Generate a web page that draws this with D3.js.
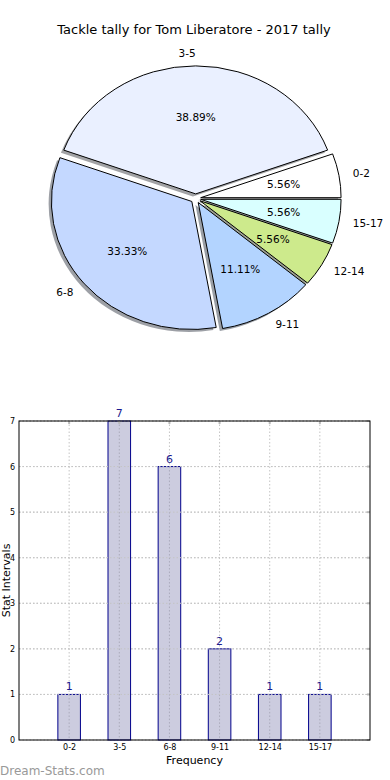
<!DOCTYPE html>
<html>
<head>
<meta charset="utf-8">
<script src="https://cdn.jsdelivr.net/npm/d3@7"></script>
<style>
  body { margin: 0; background: #fff; }
  svg { display: block; font-family: "DejaVu Sans", sans-serif; }
</style>
</head>
<body>
<svg id="chart" width="390" height="780"></svg>
<script>
// Tackle tally data
var categories = ['0-2', '3-5', '6-8', '9-11', '12-14', '15-17'];
var counts = [1, 7, 6, 2, 1, 1];
var pieColors = ['#ffffff', '#eaf0ff', '#c4d8ff', '#b3d4ff', '#cdea8c', '#d9ffff'];
var yTicks = [0, 1, 2, 3, 4, 5, 6, 7];

var svg = d3.select('#chart');

// Title
svg.append('text')
  .attr('x', 194).attr('y', 34)
  .attr('text-anchor', 'middle')
  .style('font-size', '13px')
  .text('Tackle tally for Tom Liberatore - 2017 tally');

// ---- Pie (elliptical, like matplotlib without equal aspect) ----
var cx = 195.7, cy = 198.5, rx = 140.4, ry = 128;
var explode = 0.036;
var total = d3.sum(counts);

// counterclockwise from 3 o'clock
var pie = d3.pie().sort(null).startAngle(Math.PI / 2).endAngle(Math.PI / 2 - 2 * Math.PI);
var arcs = pie(counts);
var arc = d3.arc().innerRadius(0).outerRadius(rx);

var pieG = svg.append('g').attr('transform', 'translate(' + cx + ',' + cy + ')');

function mid(d) { return (d.startAngle + d.endAngle) / 2; }
function offX(d) { return explode * rx * Math.sin(mid(d)); }
function offY(d) { return -explode * ry * Math.cos(mid(d)); }

// shadows first
pieG.selectAll('.shadow').data(arcs).enter()
  .append('g')
  .attr('transform', function(d) {
    return 'translate(' + (offX(d) - 0.02 * rx) + ',' + (offY(d) + 0.02 * ry) + ') scale(1,' + (ry / rx) + ')';
  })
  .append('path')
  .attr('d', arc)
  .attr('fill', function(d, i) {
    var c = d3.rgb(pieColors[i]);
    return d3.rgb(c.r * 0.3, c.g * 0.3, c.b * 0.3);
  })
  .attr('fill-opacity', 0.5);

pieG.selectAll('.wedge').data(arcs).enter()
  .append('g')
  .attr('transform', function(d) {
    return 'translate(' + offX(d) + ',' + offY(d) + ') scale(1,' + (ry / rx) + ')';
  })
  .append('path')
  .attr('d', arc)
  .attr('fill', function(d, i) { return pieColors[i]; })
  .attr('stroke', '#000')
  .attr('stroke-width', 1)
  .attr('vector-effect', 'non-scaling-stroke')
  .attr('stroke-linejoin', 'round');

// category labels
pieG.selectAll('.lbl').data(arcs).enter()
  .append('text')
  .attr('x', function(d) { return offX(d) + 1.1 * rx * Math.sin(mid(d)); })
  .attr('y', function(d) { return offY(d) - 1.1 * ry * Math.cos(mid(d)); })
  .attr('dy', '0.35em')
  .attr('text-anchor', function(d) { return Math.sin(mid(d)) > 1e-6 ? 'start' : 'end'; })
  .style('font-size', '10.5px')
  .text(function(d, i) { return categories[i]; });

// percentages
pieG.selectAll('.pct').data(arcs).enter()
  .append('text')
  .attr('x', function(d) { return offX(d) + 0.6 * rx * Math.sin(mid(d)); })
  .attr('y', function(d) { return offY(d) - 0.6 * ry * Math.cos(mid(d)); })
  .attr('dy', '0.35em')
  .attr('text-anchor', 'middle')
  .style('font-size', '10.5px')
  .text(function(d) { return (d.value / total * 100).toFixed(2) + '%'; });

// ---- Bar chart ----
var plotL = 19, plotR = 370, plotT = 421, plotB = 740;
var x = d3.scaleLinear().domain([-1, 6]).range([plotL, plotR]);
var y = d3.scaleLinear().domain([0, 7]).range([plotB, plotT]);
var barW = x(0.45) - x(0);

var bars = svg.append('g');

// grid
bars.selectAll('.gy').data(yTicks).enter()
  .append('line')
  .attr('x1', plotL).attr('x2', plotR)
  .attr('y1', function(d) { return y(d); }).attr('y2', function(d) { return y(d); })
  .attr('stroke', '#c4c4c4').attr('stroke-dasharray', '1.5,2');
bars.selectAll('.gx').data(categories).enter()
  .append('line')
  .attr('x1', function(d, i) { return x(i); }).attr('x2', function(d, i) { return x(i); })
  .attr('y1', plotT).attr('y2', plotB)
  .attr('stroke', '#c4c4c4').attr('stroke-dasharray', '1.5,2');

bars.selectAll('rect').data(counts).enter()
  .append('rect')
  .attr('x', function(d, i) { return x(i) - barW / 2; })
  .attr('y', function(d) { return y(d); })
  .attr('width', barW)
  .attr('height', function(d) { return plotB - y(d); })
  .attr('fill', '#ccccdf')
  .attr('stroke', '#00008b')
  .attr('stroke-width', 1);

// grid over bars too (matplotlib draws on top here)
bars.selectAll('.gx2').data(categories).enter()
  .append('line')
  .attr('x1', function(d, i) { return x(i); }).attr('x2', function(d, i) { return x(i); })
  .attr('y1', function(d, i) { return y(counts[i]); }).attr('y2', plotB)
  .attr('stroke', '#aaaabb').attr('stroke-dasharray', '1.5,2');
bars.selectAll('.gy2').data(yTicks.slice(1)).enter()
  .append('line')
  .attr('x1', plotL).attr('x2', plotR)
  .attr('y1', function(d) { return y(d); }).attr('y2', function(d) { return y(d); })
  .attr('stroke', '#c4c4c4').attr('stroke-dasharray', '1.5,2');

// small gray ticks on top and right edges
bars.selectAll('.tt').data(categories).enter()
  .append('line')
  .attr('x1', function(d, i) { return x(i); }).attr('x2', function(d, i) { return x(i); })
  .attr('y1', plotT).attr('y2', plotT + 3)
  .attr('stroke', '#bbb').attr('stroke-width', 2);
bars.selectAll('.tr').data(yTicks).enter()
  .append('line')
  .attr('x1', plotR - 3).attr('x2', plotR)
  .attr('y1', function(d) { return y(d); }).attr('y2', function(d) { return y(d); })
  .attr('stroke', '#bbb').attr('stroke-width', 2);

// value labels
bars.selectAll('.val').data(counts).enter()
  .append('text')
  .attr('x', function(d, i) { return x(i); })
  .attr('y', function(d) { return y(d) - 4; })
  .attr('text-anchor', 'middle')
  .attr('fill', '#1a1a8f')
  .style('font-size', '11px')
  .text(function(d) { return d; });

// axes
var yAxis = d3.axisLeft(y).tickValues(yTicks).tickSize(0).tickPadding(4).tickFormat(d3.format('d'));
var xAxis = d3.axisBottom(x).tickValues(d3.range(categories.length)).tickSize(0).tickPadding(4)
  .tickFormat(function(d) { return categories[d]; });

var ya = svg.append('g').attr('transform', 'translate(' + plotL + ',0)').call(yAxis);
var xa = svg.append('g').attr('transform', 'translate(0,' + plotB + ')').call(xAxis);
[ya, xa].forEach(function(a) {
  a.select('.domain').remove();
  a.selectAll('text').style('font-size', '8px').style('font-family', '"DejaVu Sans", sans-serif').attr('fill', '#000');
});

// frame
svg.append('rect')
  .attr('x', plotL).attr('y', plotT)
  .attr('width', plotR - plotL).attr('height', plotB - plotT)
  .attr('fill', 'none').attr('stroke', '#000').attr('stroke-width', 1);

// axis titles
svg.append('text')
  .attr('x', (plotL + plotR) / 2).attr('y', 764)
  .attr('text-anchor', 'middle')
  .style('font-size', '11px')
  .text('Frequency');
svg.append('text')
  .attr('transform', 'translate(10,' + ((plotT + plotB) / 2) + ') rotate(-90)')
  .attr('text-anchor', 'middle')
  .style('font-size', '11px')
  .text('Stat Intervals');

// watermark
svg.append('text')
  .attr('x', 0).attr('y', 775)
  .attr('fill', '#999')
  .style('font-size', '12px')
  .text('Dream-Stats.com');
</script>
</body>
</html>
